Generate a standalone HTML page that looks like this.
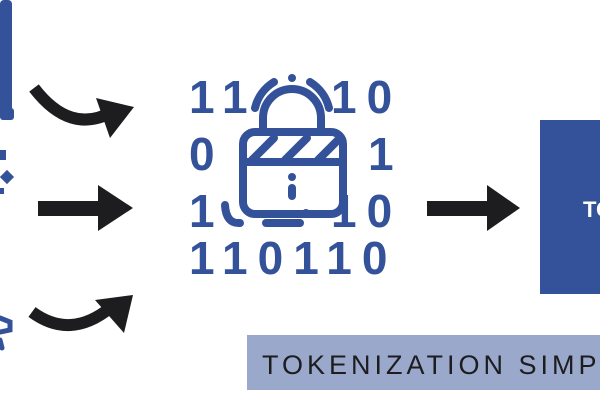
<!DOCTYPE html>
<html><head><style>
html,body{margin:0;padding:0;background:#fff;width:600px;height:403px;overflow:hidden;position:relative;font-family:"Liberation Sans",sans-serif}
</style></head><body>
<svg width="600" height="403" style="position:absolute;left:0;top:0">
<g fill="#34529a" stroke="none">
 <rect x="0" y="0" width="12" height="120" rx="4"/>
 <rect x="0" y="108" width="14" height="12" rx="3"/>
 <rect x="0" y="150" width="6" height="10"/>
 <rect x="2" y="172" width="10" height="10" transform="rotate(45 7 177)"/>
 <rect x="0" y="188" width="4" height="6"/>
</g>
<g fill="none" stroke="#34529a" stroke-width="5" stroke-linecap="round">
 <path d="M0 318 L10 322 L10 330 L0 332"/>
 <path d="M0 340 L2 348"/>
</g>
<g fill="#1d1d1f" stroke="#1d1d1f">
 <path d="M34 88 Q70 135 112 112" fill="none" stroke-width="12"/>
 <polygon points="96,98 134,107 110,138" stroke="none"/>
 <rect x="38" y="201" width="62" height="15" stroke="none"/>
 <polygon points="98,185 133,208 98,231" stroke="none"/>
 <path d="M32 312 Q70 340 110 308" fill="none" stroke-width="12"/>
 <polygon points="95,300 133,295 124,333" stroke="none"/>
 <rect x="427" y="201" width="62" height="15" stroke="none"/>
 <polygon points="487,185 520,208 487,231" stroke="none"/>
</g>
<g fill="#34529a" font-family="Liberation Sans,sans-serif" font-weight="bold" font-size="46">
 <text x="189" y="113" letter-spacing="10">11</text>
 <text x="331" y="113" letter-spacing="10">10</text>
 <text x="189" y="170">0</text>
 <text x="368" y="170">1</text>
 <text x="189" y="227">1</text>
 <text x="331" y="227" letter-spacing="10">10</text>
 <text x="189" y="274" letter-spacing="10">110110</text>
</g>
<g fill="none" stroke="#34529a" stroke-width="8" stroke-linecap="round">
 <path d="M259 104 A40 40 0 0 1 272 84" stroke="#fff" stroke-width="16"/>
 <path d="M262 130 V118 A30 30 0 0 1 322 118 V130" stroke="#fff" stroke-width="16"/>
 <path d="M263 130 V118 A29 29 0 0 1 321 118 V130"/>
 <path d="M255 108 A42 42 0 0 1 274 82"/>
 <path d="M310 82 A42 42 0 0 1 329 108"/>
 <rect x="243" y="132" width="100" height="82" rx="12" fill="#fff"/>
 <line x1="243" y1="162" x2="343" y2="162"/>
 <line x1="252" y1="160" x2="274" y2="138"/>
 <line x1="285" y1="160" x2="307" y2="138"/>
 <line x1="318" y1="160" x2="340" y2="138"/>
 <line x1="292" y1="188" x2="292" y2="196"/>
 <path d="M225 205 Q226 224 240 223"/>
 <line x1="266" y1="223" x2="300" y2="223"/>
</g>
<g fill="#34529a"><circle cx="292" cy="78" r="4"/><circle cx="292" cy="177" r="4"/><circle cx="306" cy="213" r="4"/></g>
<rect x="540" y="120" width="60" height="174" fill="#34529a"/>
<text x="583" y="217" fill="#fff" font-size="22" font-weight="bold">TO</text>
<rect x="247" y="335" width="353" height="55" fill="#9aa8cc"/>
<text x="262" y="374" fill="#1d1d1f" font-size="27" letter-spacing="4">TOKENIZATION SIMPLIFIED</text>
</svg>
</body></html>
